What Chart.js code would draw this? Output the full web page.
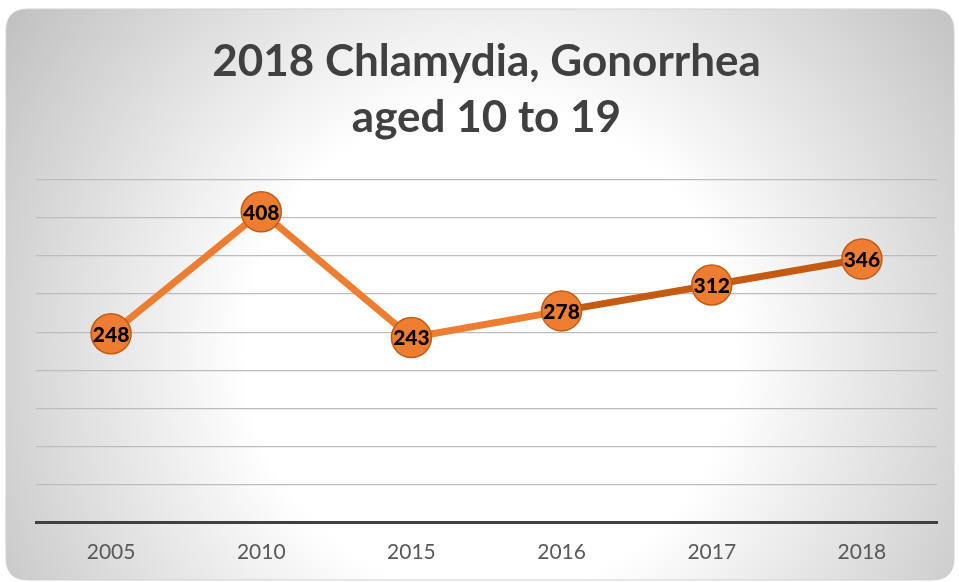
<!DOCTYPE html>
<html>
<head>
<meta charset="utf-8">
<script src="https://cdn.jsdelivr.net/npm/chart.js@4"></script>
<style>
  html, body { margin: 0; padding: 0; background: #ffffff; }
  #wrap { width: 959px; height: 582px; }
</style>
</head>
<body>
<div id="wrap"><canvas id="grafico" width="959" height="582"></canvas></div>
<script>
// Datos
const anios = ["2005", "2010", "2015", "2016", "2017", "2018"];
const casos = [248, 408, 243, 278, 312, 346];
const tituloLineas = ["2018 Chlamydia, Gonorrhea", "aged 10 to 19"];

const naranja = "#ED7D31";
const naranjaOscuro = "#C55A11";

// Fondo de tarjeta con degradado radial
const fondoTarjeta = {
    id: 'fondoTarjeta',
    beforeDraw(chart) {
        const ctx = chart.ctx;
        const x = 6, y = 9, w = 948, h = 571, r = 22;
        ctx.save();
        const g = ctx.createRadialGradient(490, 350, 20, 490, 350, 580);
        g.addColorStop(0, "#ffffff");
        g.addColorStop(0.4, "#ffffff");
        g.addColorStop(1, "#c2c2c2");
        ctx.beginPath();
        ctx.moveTo(x + r, y);
        ctx.lineTo(x + w - r, y);
        ctx.quadraticCurveTo(x + w, y, x + w, y + r);
        ctx.lineTo(x + w, y + h - r);
        ctx.quadraticCurveTo(x + w, y + h, x + w - r, y + h);
        ctx.lineTo(x + r, y + h);
        ctx.quadraticCurveTo(x, y + h, x, y + h - r);
        ctx.lineTo(x, y + r);
        ctx.quadraticCurveTo(x, y, x + r, y);
        ctx.closePath();
        ctx.fillStyle = g;
        ctx.fill();
        ctx.strokeStyle = "#d0d0d0";
        ctx.lineWidth = 1;
        ctx.stroke();
        ctx.restore();
    }
};

// Etiquetas de valor dentro de los puntos
const etiquetas = {
    id: 'etiquetas',
    afterDatasetsDraw(chart) {
        const ctx = chart.ctx;
        const meta = chart.getDatasetMeta(0);
        ctx.save();
        ctx.font = "900 21px Lato";
        ctx.fillStyle = "#000000";
        ctx.textAlign = "center";
        ctx.textBaseline = "middle";
        meta.data.forEach((p, i) => {
            ctx.fillText(chart.data.datasets[0].data[i], p.x, p.y + 1);
        });
        ctx.restore();
    }
};

new Chart(document.getElementById('grafico'), {
    type: 'line',
    data: {
        labels: anios,
        datasets: [
            {
                label: "Casos",
                data: casos,
                borderColor: naranja,
                borderWidth: 7,
                backgroundColor: naranja,
                pointBackgroundColor: naranja,
                pointBorderColor: naranjaOscuro,
                pointBorderWidth: 1.5,
                pointRadius: 20,
                pointHoverRadius: 20,
                tension: 0,
                segment: {
                    borderColor: c => c.p0DataIndex >= 3 ? naranjaOscuro : naranja
                }
            }
        ]
    },
    options: {
        responsive: false,
        animation: false,
        layout: {
            padding: { top: 34, left: 36, right: 22, bottom: 0 }
        },
        plugins: {
            legend: { display: false },
            tooltip: { enabled: false },
            title: {
                display: true,
                text: tituloLineas,
                color: "#404040",
                font: { family: "Lato", size: 44, weight: 'bold', lineHeight: 1.27 },
                padding: { top: 0, bottom: 34 }
            }
        },
        scales: {
            x: {
                offset: true,
                grid: { display: false, drawTicks: false },
                border: { display: true, color: "#404040", width: 3 },
                ticks: {
                    color: "#595959",
                    font: { family: "Lato", size: 21 },
                    padding: 17
                }
            },
            y: {
                min: 0,
                max: 450,
                ticks: { display: false, stepSize: 50 },
                grid: { color: "#bdbdbd", lineWidth: 1.3, drawTicks: false },
                border: { display: false }
            }
        }
    },
    plugins: [fondoTarjeta, etiquetas]
});
</script>
</body>
</html>
